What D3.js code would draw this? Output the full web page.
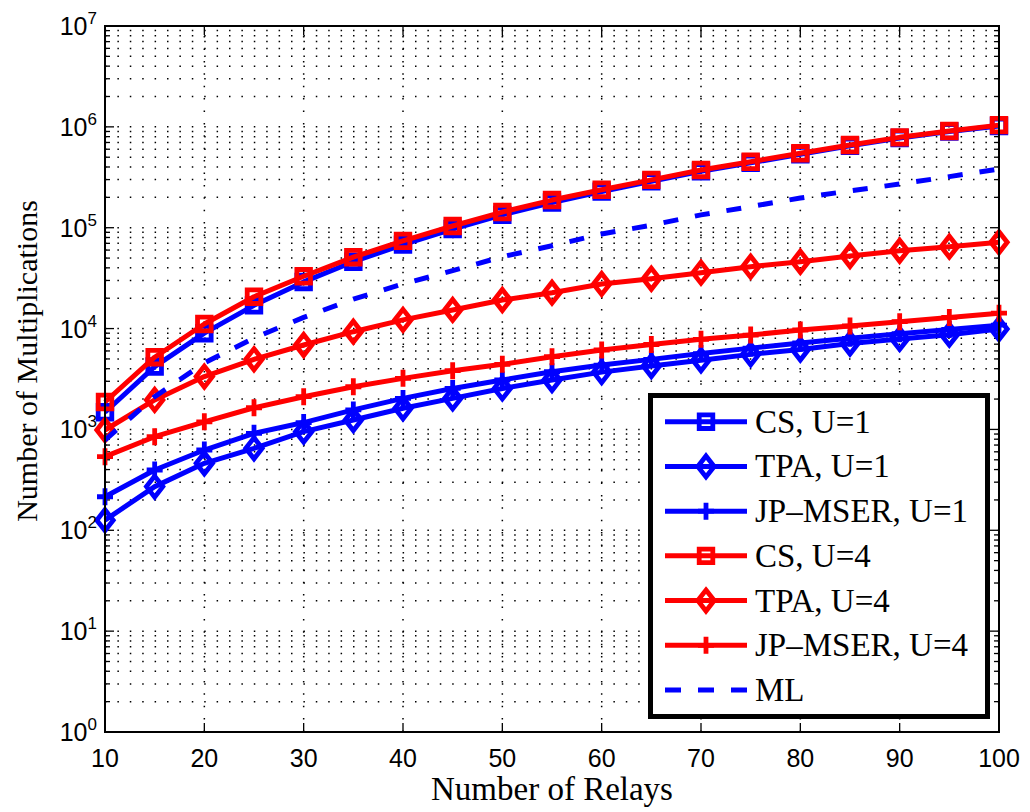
<!DOCTYPE html>
<html>
<head>
<meta charset="utf-8">
<script src="https://cdn.jsdelivr.net/npm/d3@7"></script>
<style>
  body { margin: 0; background: #fff; }
</style>
</head>
<body>
<svg id="chart"></svg>
<script>
// data
var relays = [10, 15, 20, 25, 30, 35, 40, 45, 50, 55, 60, 65, 70, 75, 80, 85, 90, 95, 100];

var csU1 = [1480, 4200, 9000, 17000, 29000, 46000, 68000, 97000, 134000, 178000, 228000, 288000, 362000, 440000, 535000, 648000, 775000, 900000, 1020000];
var tpaU1 = [126, 271, 461, 650, 950, 1240, 1620, 2030, 2550, 3090, 3700, 4250, 4850, 5550, 6200, 7100, 7900, 8700, 9900];
var jpU1 = [215, 396, 625, 915, 1170, 1560, 2030, 2550, 3090, 3730, 4350, 4950, 5650, 6400, 7200, 8000, 8900, 9800, 10800];
var csU4 = [1870, 5200, 11100, 20700, 33000, 51000, 74000, 104000, 143000, 188000, 238000, 298000, 374000, 451000, 547000, 661000, 787000, 910000, 1040000];
var tpaU4 = [987, 1960, 3340, 4960, 6870, 9310, 12200, 15300, 19200, 22700, 27700, 31200, 35800, 41100, 46000, 52400, 59100, 64800, 71700];
var jpU4 = [537, 847, 1190, 1640, 2110, 2650, 3210, 3820, 4420, 5260, 6130, 6950, 7820, 8630, 9680, 10600, 11700, 12900, 14200];
var ml = [785, 2110, 4560, 8060, 12900, 19600, 27700, 37500, 51600, 66200, 86600, 106000, 134000, 162000, 197000, 232000, 271000, 321000, 382000];

var seriesNames = ['CS, U=1', 'TPA, U=1', 'JP\u2013MSER, U=1', 'CS, U=4', 'TPA, U=4', 'JP\u2013MSER, U=4', 'ML'];
var xTicks = [10, 20, 30, 40, 50, 60, 70, 80, 90, 100];
var yExponents = [0, 1, 2, 3, 4, 5, 6, 7];

var series = [
  { name: seriesNames[0], values: csU1, color: '#0000ff', marker: 'square' },
  { name: seriesNames[1], values: tpaU1, color: '#0000ff', marker: 'diamond' },
  { name: seriesNames[2], values: jpU1, color: '#0000ff', marker: 'plus' },
  { name: seriesNames[3], values: csU4, color: '#ff0000', marker: 'square' },
  { name: seriesNames[4], values: tpaU4, color: '#ff0000', marker: 'diamond' },
  { name: seriesNames[5], values: jpU4, color: '#ff0000', marker: 'plus' },
  { name: seriesNames[6], values: ml, color: '#0000ff', marker: null, dash: '15,17' }
];

var markerPaths = {
  square: 'M-6.8,-6.8H6.8V6.8H-6.8Z',
  diamond: 'M0,-10.5L8.2,0L0,10.5L-8.2,0Z',
  plus: 'M-8,0H8M0,-8.5V8.5'
};

var svgWidth = 1030, svgHeight = 812;
var plotLeft = 105, plotRight = 999, plotTop = 26, plotBottom = 732;

var svg = d3.select('#chart')
  .attr('width', svgWidth)
  .attr('height', svgHeight);

var x = d3.scaleLinear().domain([10, 100]).range([plotLeft, plotRight]);
var y = d3.scaleLog().domain([1, 1e7]).range([plotBottom, plotTop]);

// grid values on the log axis
var minorVals = [];
for (var e = 0; e < 7; e++) {
  for (var m = 2; m <= 9; m++) minorVals.push(m * Math.pow(10, e));
}
var majorVals = yExponents.map(function(k) { return Math.pow(10, k); });

var grid = svg.append('g')
  .attr('stroke', '#000')
  .attr('stroke-width', 1.5)
  .attr('stroke-dasharray', '1.5,10.9');

grid.selectAll('line.h')
  .data(majorVals.concat(minorVals))
  .enter()
  .append('line')
  .attr('class', 'h')
  .attr('x1', plotLeft)
  .attr('x2', plotRight)
  .attr('y1', function(d) { return y(d); })
  .attr('y2', function(d) { return y(d); });

grid.selectAll('line.v')
  .data(xTicks.slice(1, -1))
  .enter()
  .append('line')
  .attr('class', 'v')
  .attr('x1', function(d) { return x(d); })
  .attr('x2', function(d) { return x(d); })
  .attr('y1', plotBottom)
  .attr('y2', plotTop);

// ticks
var ticks = svg.append('g').attr('stroke', '#000').attr('stroke-width', 1.3);

xTicks.forEach(function(d) {
  ticks.append('line').attr('x1', x(d)).attr('x2', x(d)).attr('y1', plotBottom).attr('y2', plotBottom - 9);
  ticks.append('line').attr('x1', x(d)).attr('x2', x(d)).attr('y1', plotTop).attr('y2', plotTop + 9);
});
majorVals.forEach(function(d) {
  ticks.append('line').attr('x1', plotLeft).attr('x2', plotLeft + 9).attr('y1', y(d)).attr('y2', y(d));
  ticks.append('line').attr('x1', plotRight).attr('x2', plotRight - 9).attr('y1', y(d)).attr('y2', y(d));
});
minorVals.forEach(function(d) {
  ticks.append('line').attr('x1', plotLeft).attr('x2', plotLeft + 5).attr('y1', y(d)).attr('y2', y(d));
  ticks.append('line').attr('x1', plotRight).attr('x2', plotRight - 5).attr('y1', y(d)).attr('y2', y(d));
});

// curves
var line = d3.line()
  .x(function(d, i) { return x(relays[i]); })
  .y(function(d) { return y(d); });

var plot = svg.append('g');

series.forEach(function(s) {
  plot.append('path')
    .attr('d', line(s.values))
    .attr('fill', 'none')
    .attr('stroke', s.color)
    .attr('stroke-width', 5)
    .attr('stroke-dasharray', s.dash || null)
    .attr('stroke-linejoin', 'round');

  if (s.marker) {
    plot.selectAll(null)
      .data(s.values)
      .enter()
      .append('path')
      .attr('d', markerPaths[s.marker])
      .attr('fill', 'none')
      .attr('stroke', s.color)
      .attr('stroke-width', 4.8)
      .attr('transform', function(d, i) {
        return 'translate(' + x(relays[i]) + ',' + y(d) + ')';
      });
  }
});

// frame
svg.append('rect')
  .attr('x', plotLeft)
  .attr('y', plotTop)
  .attr('width', plotRight - plotLeft)
  .attr('height', plotBottom - plotTop)
  .attr('fill', 'none')
  .attr('stroke', '#000')
  .attr('stroke-width', 2);

// tick labels
svg.append('g')
  .selectAll('text')
  .data(xTicks)
  .enter()
  .append('text')
  .attr('x', function(d) { return x(d); })
  .attr('y', 767)
  .attr('text-anchor', 'middle')
  .attr('font-family', '"Liberation Sans", Arial, sans-serif')
  .attr('font-size', 25)
  .text(function(d) { return d; });

var yLabels = svg.append('g')
  .selectAll('text')
  .data(yExponents)
  .enter()
  .append('text')
  .attr('x', 97)
  .attr('y', function(d) { return y(Math.pow(10, d)) + 9; })
  .attr('text-anchor', 'end')
  .attr('font-family', '"Liberation Sans", Arial, sans-serif')
  .attr('font-size', 25);

yLabels.append('tspan').text('10');
yLabels.append('tspan')
  .attr('font-size', 17)
  .attr('dy', -11)
  .text(function(d) { return d; });

// axis titles
svg.append('text')
  .attr('x', (plotLeft + plotRight) / 2)
  .attr('y', 800)
  .attr('text-anchor', 'middle')
  .attr('font-family', '"Liberation Serif", "Times New Roman", serif')
  .attr('font-size', 33)
  .text('Number of Relays');

svg.append('text')
  .attr('transform', 'translate(37,361) rotate(-90)')
  .attr('text-anchor', 'middle')
  .attr('font-family', '"Liberation Serif", "Times New Roman", serif')
  .attr('font-size', 30)
  .text('Number of Multiplications');

// legend
var legend = svg.append('g');

legend.append('rect')
  .attr('x', 650.5)
  .attr('y', 395.5)
  .attr('width', 337)
  .attr('height', 321)
  .attr('fill', '#fff')
  .attr('stroke', '#000')
  .attr('stroke-width', 5);

var rowY = d3.scaleLinear().domain([0, 6]).range([421.7, 690]);

series.forEach(function(s, i) {
  var yy = rowY(i);
  legend.append('line')
    .attr('x1', 665)
    .attr('x2', 747)
    .attr('y1', yy)
    .attr('y2', yy)
    .attr('stroke', s.color)
    .attr('stroke-width', 5)
    .attr('stroke-dasharray', s.dash ? '16,17' : null);
  if (s.marker) {
    legend.append('path')
      .attr('d', markerPaths[s.marker])
      .attr('fill', 'none')
      .attr('stroke', s.color)
      .attr('stroke-width', 4.8)
      .attr('transform', 'translate(706,' + yy + ')');
  }
  legend.append('text')
    .attr('x', 755)
    .attr('y', yy + 11)
    .attr('font-family', '"Liberation Serif", "Times New Roman", serif')
    .attr('font-size', 33)
    .text(s.name);
});
</script>
</body>
</html>
